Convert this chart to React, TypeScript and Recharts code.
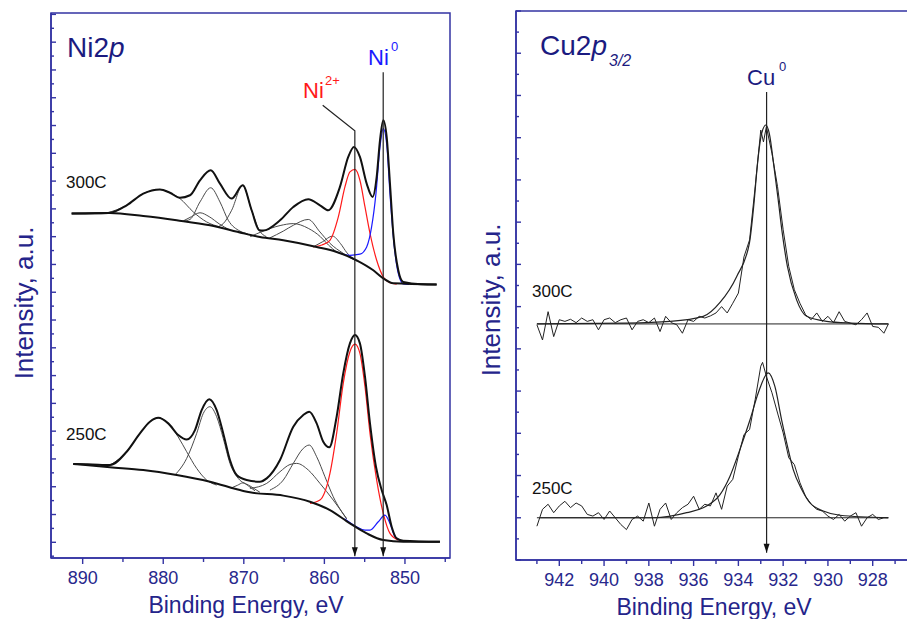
import { LineChart, Line, XAxis, YAxis, ReferenceArea } from 'recharts';

type P = [number, number];

// Ni2p, 300C  (binding energy eV, intensity a.u.)
const ni300Envelope: P[] = [
  [891.37, 11.83], [888.5, 11.84], [886.61, 11.86], [884.54, 12.13], [882.48, 12.55], [880.41, 12.7],
  [879.17, 12.58], [877.92, 12.4], [876.68, 12.49], [875.44, 13.03], [874.11, 13.39], [872.96, 12.91],
  [871.51, 12.37], [870.14, 12.85], [869.03, 11.95], [868.08, 11.23], [867.59, 11.22], [865.51, 11.59],
  [863.86, 12.07], [862.0, 12.35], [860.55, 12.13], [859.52, 11.95], [858.07, 12.79], [857.04, 13.87],
  [856.33, 14.23], [855.59, 13.87], [854.75, 12.91], [854.01, 12.43], [853.51, 13.15], [853.1, 14.47],
  [852.69, 15.19], [852.27, 14.59], [851.86, 12.91], [851.45, 11.12], [850.83, 9.79], [850.21, 9.37],
  [848.0, 9.29], [846.07, 9.28],
];
const ni300Base: P[] = [
  [891.37, 11.83], [886.61, 11.85], [882.48, 11.74], [878.33, 11.59], [874.2, 11.41], [870.07, 11.12],
  [868.0, 10.99], [865.1, 10.87], [860.96, 10.63], [858.48, 10.45], [856.0, 10.15], [853.93, 9.79],
  [852.69, 9.5], [851.45, 9.32], [846.07, 9.28],
];
const ni300C1: P[] = [
  [887.0, 11.85], [884.54, 12.13], [882.48, 12.55], [880.41, 12.7], [879.17, 12.58], [877.92, 12.37],
  [876.27, 11.89], [874.61, 11.53], [872.96, 11.35],
];
const ni300C2: P[] = [
  [877.5, 11.56], [876.68, 11.62], [875.44, 12.25], [874.11, 12.76], [872.96, 12.25], [871.93, 11.59],
  [870.48, 11.2], [869.5, 11.1],
];
const ni300C3: P[] = [[877.5, 11.57], [876.5, 11.72], [875.44, 11.86], [874.3, 11.72], [873.0, 11.45], [871.8, 11.25]];
const ni300C4: P[] = [[873.2, 11.36], [872.55, 11.47], [871.51, 11.95], [870.14, 12.85], [869.03, 11.95], [868.08, 11.23], [867.2, 11.0]];
const ni300C5: P[] = [[869.2, 11.0], [867.6, 11.2], [865.5, 11.4], [863.86, 11.47], [862.0, 11.3], [860.5, 11.0], [859.5, 10.7], [858.5, 10.45]];
const ni300C6: P[] = [[866.8, 10.95], [865.1, 11.2], [863.86, 11.41], [862.0, 11.62], [860.55, 11.17], [859.31, 10.76], [857.66, 10.4], [856.0, 10.12]];
const ni300C7: P[] = [[861.4, 10.63], [860.2, 10.82], [859.0, 11.02], [858.0, 10.75], [857.2, 10.42], [856.4, 10.2]];
const ni300Ni2: P[] = [
  [861.38, 10.63], [860.3, 10.7], [859.31, 10.87], [858.27, 11.71], [857.45, 12.79], [856.83, 13.33],
  [856.2, 13.42], [855.59, 13.03], [854.96, 12.07], [854.34, 11.12], [853.51, 10.15], [852.69, 9.55],
  [851.86, 9.34], [851.03, 9.29],
];
const ni300Ni0: P[] = [
  [858.48, 10.45], [856.83, 10.33], [855.59, 10.37], [854.75, 10.63], [854.14, 11.35], [853.6, 12.55],
  [853.1, 14.23], [852.69, 14.89], [852.27, 14.35], [851.86, 12.55], [851.37, 10.76], [850.83, 9.68],
  [850.21, 9.3], [849.5, 9.28],
];

// Ni2p, 250C
const ni250Envelope: P[] = [
  [891.17, 2.82], [888.8, 2.8], [886.61, 2.78], [884.54, 3.26], [882.89, 3.92], [881.65, 4.34],
  [880.62, 4.48], [879.38, 4.28], [878.14, 3.86], [877.09, 3.7], [876.06, 4.04], [875.23, 4.76],
  [874.29, 5.15], [873.37, 4.76], [872.55, 3.92], [871.72, 2.96], [870.89, 2.42], [869.65, 2.24],
  [868.0, 2.18], [867.16, 2.3], [865.51, 2.96], [863.86, 4.16], [862.62, 4.58], [861.88, 4.7],
  [860.96, 4.28], [860.14, 3.62], [859.39, 3.42], [858.48, 4.52], [857.66, 6.08], [856.83, 7.16],
  [856.2, 7.46], [855.59, 7.16], [854.96, 5.96], [854.34, 4.28], [853.6, 2.72], [852.89, 1.88],
  [852.27, 1.34], [851.65, 0.56], [851.03, 0.14], [850.21, 0.06], [845.66, 0.02],
];
const ni250Base: P[] = [
  [891.17, 2.82], [886.61, 2.7], [882.48, 2.6], [878.33, 2.42], [874.2, 2.18], [870.07, 1.85],
  [869.24, 1.8], [865.1, 1.68], [861.79, 1.46], [859.31, 1.16], [856.83, 0.68], [854.75, 0.32],
  [852.69, 0.08], [850.21, 0.02], [845.66, 0.02],
];
const ni250C1: P[] = [
  [887.0, 2.72], [886.61, 2.78], [884.54, 3.26], [882.89, 3.92], [881.65, 4.34], [880.62, 4.48],
  [879.38, 4.28], [878.14, 3.79], [877.09, 3.26], [875.85, 2.66], [874.61, 2.24], [873.37, 2.06],
];
const ni250C2: P[] = [
  [878.55, 2.42], [877.09, 3.02], [875.85, 3.92], [875.03, 4.64], [874.2, 4.88], [873.37, 4.52],
  [872.55, 3.74], [871.72, 2.84], [870.69, 2.3], [869.24, 2.03], [868.0, 1.8],
];
const ni250C3: P[] = [[871.6, 1.95], [870.8, 2.05], [870.1, 2.14], [869.4, 2.02], [868.6, 1.85]];
const ni250C4: P[] = [
  [869.24, 1.94], [867.16, 2.12], [865.51, 2.54], [864.27, 2.8], [863.44, 2.84], [861.99, 2.6],
  [860.55, 2.12], [858.9, 1.52], [857.24, 0.85],
];
const ni250C5: P[] = [
  [866.76, 1.88], [865.1, 2.24], [863.86, 2.84], [862.62, 3.38], [861.88, 3.5], [860.96, 3.08],
  [859.93, 2.36], [858.9, 1.64], [857.24, 0.85],
];
const ni250Ni2: P[] = [
  [861.79, 1.4], [860.55, 1.52], [859.31, 2.48], [858.48, 3.92], [857.66, 5.72], [856.83, 6.86],
  [856.2, 7.13], [855.59, 6.8], [854.96, 5.6], [854.34, 3.92], [853.51, 2.24], [852.69, 1.04],
  [851.86, 0.32], [850.83, 0.08],
];
const ni250Ni0: P[] = [
  [857.5, 0.85], [856.0, 0.56], [854.96, 0.44], [854.34, 0.44], [853.31, 0.74], [852.48, 0.98],
  [851.86, 0.68], [851.24, 0.2], [850.42, 0.05],
];

// peak marker lines (Ni2+ with leader, Ni0)
const ni2Marker: P[] = [[860.21, 15.73], [856.22, 14.81], [856.22, -0.5]];
const ni0Marker: P[] = [[852.7, 16.92], [852.7, -0.5]];

// Cu2p3/2, 300C
const cu300Raw: P[] = [
  [943.0, 4.57], [942.75, 4.21], [942.5, 4.88], [942.25, 4.29], [942.0, 4.69], [941.75, 4.65],
  [941.5, 4.7], [941.25, 4.62], [941.0, 4.73], [940.75, 4.65], [940.5, 4.69], [940.25, 4.45],
  [940.0, 4.69], [939.75, 4.73], [939.5, 4.62], [939.25, 4.69], [939.0, 4.73], [938.75, 4.45],
  [938.5, 4.65], [938.25, 4.69], [938.0, 4.62], [937.75, 4.73], [937.5, 4.41], [937.25, 4.77],
  [937.0, 4.62], [936.75, 4.57], [936.5, 4.37], [936.25, 4.69], [936.0, 4.65], [935.75, 4.77],
  [935.5, 4.73], [935.25, 4.78], [935.0, 4.85], [934.75, 5.0], [934.5, 4.85], [934.25, 5.08],
  [934.0, 5.32], [933.75, 6.18], [933.5, 6.58], [933.25, 7.84], [933.0, 9.18], [932.88, 8.9],
  [932.75, 9.26], [932.5, 8.63], [932.25, 7.84], [932.0, 6.82], [931.75, 5.95], [931.5, 5.4],
  [931.25, 5.08], [931.0, 4.81], [930.75, 4.69], [930.5, 4.85], [930.25, 4.65], [930.0, 4.77],
  [929.75, 4.62], [929.5, 4.88], [929.25, 4.65], [929.0, 4.61], [928.75, 4.57], [928.5, 4.69],
  [928.25, 4.85], [928.0, 4.53], [927.75, 4.51], [927.5, 4.37], [927.3, 4.59],
];
const cu300Fit: P[] = [
  [943.0, 4.59], [939.0, 4.61], [937.06, 4.65], [935.57, 4.77], [934.82, 5.1], [934.08, 5.71],
  [933.51, 6.5], [933.29, 7.52], [933.16, 8.31], [932.96, 9.1], [932.77, 9.3], [932.62, 9.1],
  [932.41, 8.31], [932.22, 7.52], [932.04, 6.74], [931.81, 5.95], [931.4, 5.16], [930.95, 4.77],
  [930.06, 4.65], [929.0, 4.61], [927.3, 4.59],
];
const cu300Base: P[] = [[943.0, 4.59], [927.3, 4.59]];

// Cu2p3/2, 250C
const cu250Raw: P[] = [
  [943.0, -0.2], [942.75, 0.2], [942.5, 0.32], [942.25, 0.12], [942.0, 0.28], [941.75, 0.39],
  [941.5, 0.24], [941.25, 0.35], [941.0, 0.28], [940.75, 0.08], [940.5, 0.04], [940.25, 0.12],
  [940.0, -0.04], [939.75, 0.16], [939.5, 0.0], [939.25, -0.16], [939.0, -0.28], [938.75, -0.04],
  [938.5, 0.04], [938.25, -0.08], [938.0, 0.35], [937.75, -0.2], [937.5, 0.2], [937.25, 0.35],
  [937.0, -0.04], [936.75, 0.12], [936.5, 0.24], [936.25, 0.32], [936.0, 0.51], [935.75, 0.2],
  [935.5, 0.32], [935.25, 0.28], [935.0, 0.59], [934.75, 0.2], [934.5, 0.75], [934.25, 0.91],
  [934.0, 1.46], [933.75, 1.97], [933.5, 2.09], [933.25, 2.8], [933.0, 3.59], [932.92, 3.68],
  [932.75, 3.35], [932.5, 2.96], [932.25, 2.48], [932.0, 2.01], [931.75, 1.42], [931.5, 1.26],
  [931.25, 0.83], [931.0, 0.51], [930.75, 0.32], [930.5, 0.2], [930.25, 0.16], [930.0, 0.04],
  [929.75, -0.04], [929.5, 0.08], [929.25, -0.08], [929.0, 0.04], [928.75, 0.12], [928.5, -0.2],
  [928.25, 0.0], [928.0, 0.08], [927.75, -0.04], [927.5, 0.0], [927.3, 0.0],
];
const cu250Fit: P[] = [
  [942.86, 0], [937.8, 0], [936.31, 0.12], [935.42, 0.28], [934.82, 0.55], [934.38, 0.98],
  [933.93, 1.62], [933.48, 2.32], [933.11, 2.96], [932.67, 3.43], [932.37, 3.11], [932.07, 2.32],
  [931.84, 1.77], [931.55, 1.14], [931.17, 0.67], [930.8, 0.35], [930.21, 0.16], [929.46, 0.06],
  [927.31, 0],
];
const cu250Base: P[] = [[943.0, 0], [927.3, 0]];

const cu0Marker: P[] = [[932.74, 10.08], [932.74, -0.83]];

const niTicks = [845, 850, 855, 860, 865, 870, 875, 880, 885, 890];
const cuTicks = [927, 928, 929, 930, 931, 932, 933, 934, 935, 936, 937, 938, 939, 940, 941, 942, 943];

const AXIS = '#3333a3';
const TICK_TEXT = '#28288c';
const LABEL = '#24248a';
const TITLE = '#1b1b80';
const FONT = '"Liberation Sans", Arial, sans-serif';

const pts = (a: P[]) => a.map(([e, v]) => ({ e, v }));
const halfTicks = (lo: number, hi: number) => {
  const out: number[] = [];
  for (let t = lo; t <= hi + 1e-9; t += 0.5) out.push(t);
  return out;
};

const XTick = (props: any) => {
  const { x, y, payload, every } = props;
  const val = payload.value;
  const major = Math.abs(val / every - Math.round(val / every)) < 1e-6;
  return (
    <g>
      <line x1={x} y1={y} x2={x} y2={y + (major ? 6 : 4)} stroke={AXIS} strokeWidth={1.4} />
      {major && (
        <text x={x} y={y + 26} textAnchor="middle" fontSize={18} fill={TICK_TEXT} fontFamily={FONT}>
          {val}
        </text>
      )}
    </g>
  );
};

const YTick = (props: any) => {
  const { x, y, payload } = props;
  const major = Math.abs(payload.value - Math.round(payload.value)) < 1e-6;
  return <line x1={x} y1={y} x2={x + (major ? 5 : 3)} y2={y} stroke={AXIS} strokeWidth={1.4} />;
};

const arrowAt = (last: number) => (p: any) => {
  if (p.index !== last) return <g key={`d${p.index}`} />;
  return <path key={`d${p.index}`} d={`M${p.cx - 3},${p.cy - 9} L${p.cx + 3},${p.cy - 9} L${p.cx},${p.cy} Z`} fill="#111" />;
};

const fit = (d: P[], key: string, color = '#4a4a4a', w = 1) => (
  <Line key={key} data={pts(d)} dataKey="v" type="monotone" stroke={color} strokeWidth={w} dot={false} isAnimationActive={false} />
);

const NiPanel = () => (
  <LineChart width={460} height={619} margin={{ top: 13, right: 10, bottom: 31, left: 50 }}>
    <XAxis
      dataKey="e" type="number" domain={[844.41, 893.93]} reversed allowDataOverflow
      ticks={niTicks} interval={0} tickSize={0} tickMargin={0} tickLine={false}
      tick={<XTick every={10} />} axisLine={{ stroke: AXIS, strokeWidth: 1.5 }} height={30}
    />
    <YAxis
      dataKey="v" type="number" domain={[-0.565, 19.05]} allowDataOverflow width={1}
      ticks={halfTicks(-0.5, 19)} interval={0} tickSize={0} tickMargin={0} tickLine={false}
      tick={<YTick />} axisLine={{ stroke: AXIS, strokeWidth: 1.5 }}
    />
    <ReferenceArea x1={844.41} x2={893.93} y1={-0.565} y2={19.05} fill="none" stroke={AXIS} strokeWidth={1.5} ifOverflow="visible" />
    {fit(ni300C1, 'a1')}
    {fit(ni300C2, 'a2')}
    {fit(ni300C3, 'a3')}
    {fit(ni300C4, 'a4')}
    {fit(ni300C5, 'a5')}
    {fit(ni300C6, 'a6')}
    {fit(ni300C7, 'a7')}
    {fit(ni300Ni2, 'a8', '#ff1a1a', 1.2)}
    {fit(ni300Ni0, 'a9', '#1a1aff', 1.2)}
    {fit(ni300Base, 'ab', '#111', 2)}
    {fit(ni300Envelope, 'ae', '#111', 2)}
    {fit(ni250C1, 'b1')}
    {fit(ni250C2, 'b2')}
    {fit(ni250C3, 'b3')}
    {fit(ni250C4, 'b4')}
    {fit(ni250C5, 'b5')}
    {fit(ni250Ni2, 'b8', '#ff1a1a', 1.2)}
    {fit(ni250Ni0, 'b9', '#1a1aff', 1.2)}
    {fit(ni250Base, 'bb', '#111', 2)}
    {fit(ni250Envelope, 'be', '#111', 2)}
    <Line data={pts(ni2Marker)} dataKey="v" type="linear" stroke="#222" strokeWidth={1.2} dot={arrowAt(2)} isAnimationActive={false} />
    <Line data={pts(ni0Marker)} dataKey="v" type="linear" stroke="#222" strokeWidth={1.2} dot={arrowAt(1)} isAnimationActive={false} />
    <text x={67} y={57} fontSize={28} fill={TITLE} fontFamily={FONT}>
      Ni2<tspan fontStyle="italic">p</tspan>
    </text>
    <text x={368} y={65} fontSize={22} fill="#1a1aff" fontFamily={FONT}>Ni</text>
    <text x={391} y={51} fontSize={13} fill="#1a1aff" fontFamily={FONT}>0</text>
    <text x={303} y={98} fontSize={22} fill="#ff1a1a" fontFamily={FONT}>Ni</text>
    <text x={325} y={85} fontSize={13} fill="#ff1a1a" fontFamily={FONT}>2+</text>
    <text x={66} y={188} fontSize={17} fill="#111" fontFamily={FONT}>300C</text>
    <text x={66} y={440} fontSize={17} fill="#111" fontFamily={FONT}>250C</text>
    <text x={33} y={303} fontSize={26} fill={LABEL} fontFamily={FONT} textAnchor="middle" transform="rotate(-90, 33, 303)">
      Intensity, a.u.
    </text>
    <text x={246} y={613} fontSize={23} fill={LABEL} fontFamily={FONT} textAnchor="middle">
      Binding Energy, eV
    </text>
  </LineChart>
);

const CuPanel = () => (
  <LineChart width={460} height={619} margin={{ top: 11, right: 10, bottom: 29, left: 55 }}>
    <XAxis
      dataKey="e" type="number" domain={[926.334, 943.934]} reversed allowDataOverflow
      ticks={cuTicks} interval={0} tickSize={0} tickMargin={0} tickLine={false}
      tick={<XTick every={2} />} axisLine={{ stroke: AXIS, strokeWidth: 1.5 }} height={30}
    />
    <YAxis
      dataKey="v" type="number" domain={[-1, 12]} allowDataOverflow width={1}
      ticks={halfTicks(-1, 12)} interval={0} tickSize={0} tickMargin={0} tickLine={false}
      tick={<YTick />} axisLine={{ stroke: AXIS, strokeWidth: 1.5 }}
    />
    <ReferenceArea x1={926.334} x2={943.934} y1={-1} y2={12} fill="none" stroke={AXIS} strokeWidth={1.5} ifOverflow="visible" />
    <Line data={pts(cu300Base)} dataKey="v" type="linear" stroke="#222" strokeWidth={1} dot={false} isAnimationActive={false} />
    <Line data={pts(cu300Raw)} dataKey="v" type="linear" stroke="#222" strokeWidth={1} dot={false} isAnimationActive={false} />
    {fit(cu300Fit, 'c1', '#222', 1.2)}
    <Line data={pts(cu250Base)} dataKey="v" type="linear" stroke="#222" strokeWidth={1} dot={false} isAnimationActive={false} />
    <Line data={pts(cu250Raw)} dataKey="v" type="linear" stroke="#222" strokeWidth={1} dot={false} isAnimationActive={false} />
    {fit(cu250Fit, 'c2', '#222', 1.2)}
    <Line data={pts(cu0Marker)} dataKey="v" type="linear" stroke="#222" strokeWidth={1.2} dot={arrowAt(1)} isAnimationActive={false} />
    <text x={80} y={55} fontSize={28} fill={TITLE} fontFamily={FONT}>
      Cu2<tspan fontStyle="italic">p</tspan>
    </text>
    <text x={149} y={66} fontSize={16} fill={TITLE} fontFamily={FONT} fontStyle="italic">3/2</text>
    <text x={287} y={85} fontSize={22} fill={TITLE} fontFamily={FONT}>Cu</text>
    <text x={319} y={71} fontSize={13} fill={TITLE} fontFamily={FONT}>0</text>
    <text x={72} y={297} fontSize={17} fill="#111" fontFamily={FONT}>300C</text>
    <text x={72} y={494} fontSize={17} fill="#111" fontFamily={FONT}>250C</text>
    <text x={40} y={300} fontSize={26} fill={LABEL} fontFamily={FONT} textAnchor="middle" transform="rotate(-90, 40, 300)">
      Intensity, a.u.
    </text>
    <text x={254} y={615} fontSize={23} fill={LABEL} fontFamily={FONT} textAnchor="middle">
      Binding Energy, eV
    </text>
  </LineChart>
);

export default function App() {
  return (
    <div style={{ position: 'absolute', left: 0, top: 0, width: 907, height: 619, overflow: 'hidden', background: '#fff' }}>
      <div style={{ position: 'absolute', left: 0, top: 0 }}>
        <NiPanel />
      </div>
      <div style={{ position: 'absolute', left: 460, top: 0 }}>
        <CuPanel />
      </div>
    </div>
  );
}
